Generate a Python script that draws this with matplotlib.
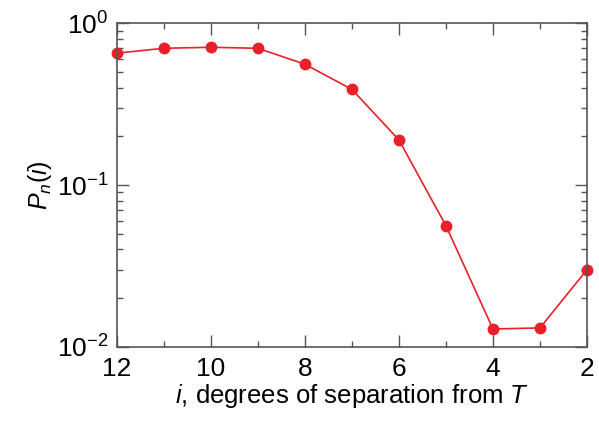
import numpy as np
import matplotlib
matplotlib.use('Agg')
import matplotlib.pyplot as plt
from matplotlib.ticker import MultipleLocator, LogLocator, NullFormatter

# Datos
grados = [12, 11, 10, 9, 8, 7, 6, 5, 4, 3, 2]
prob = [0.653, 0.70, 0.71, 0.70, 0.558, 0.39, 0.19, 0.056, 0.0129, 0.0131, 0.030]

plt.rcParams['font.family'] = ['Liberation Sans', 'DejaVu Sans']
plt.rcParams['mathtext.fontset'] = 'custom'
plt.rcParams['mathtext.rm'] = 'Liberation Sans'
plt.rcParams['mathtext.it'] = 'Liberation Sans:italic'

fig = plt.figure(figsize=(5.99, 4.22), dpi=100)
ax = fig.add_axes([0.195, 0.178, 0.785, 0.767])

ax.plot(grados, prob, color='#e8202a', lw=1.2, marker='o', ms=7.5,
        markeredgecolor='#e8202a', clip_on=False)

ax.set_yscale('log')
ax.set_ylim(1e-2, 1e0)
ax.set_xlim(12, 2)
ax.xaxis.set_major_locator(MultipleLocator(2))
ax.xaxis.set_minor_locator(MultipleLocator(1))
ax.yaxis.set_major_locator(LogLocator(base=10))
ax.yaxis.set_minor_locator(LogLocator(base=10, subs=np.arange(2, 10)))
ax.yaxis.set_minor_formatter(NullFormatter())

gris = '#555555'
for s in ax.spines.values():
    s.set_color(gris)
    s.set_linewidth(1.2)
ax.tick_params(which='both', direction='in', top=True, right=True,
               color=gris, width=1.0, labelsize=19)
ax.tick_params(which='major', length=8.5)
ax.tick_params(which='minor', length=4.5)
ax.tick_params(axis='x', pad=7)
ax.tick_params(axis='y', pad=6)

ax.set_xlabel(r'$i$, degrees of separation from $T$', fontsize=18.5, labelpad=1)
ax.set_ylabel(r'$P_n(i)$', fontsize=18, labelpad=2)

plt.savefig('out.png', dpi=100)
